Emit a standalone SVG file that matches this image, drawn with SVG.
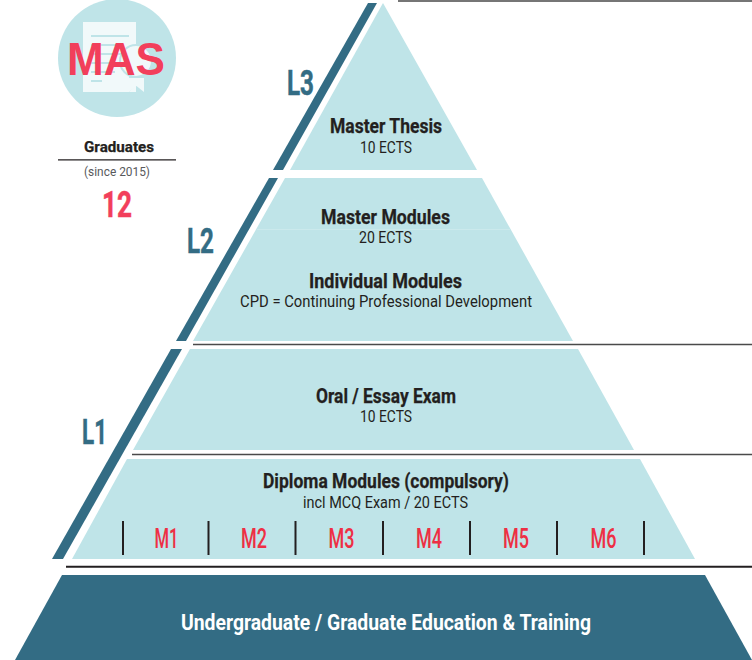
<svg xmlns="http://www.w3.org/2000/svg" width="752" height="660" viewBox="0 0 752 660">
<style>
text{font-family:"Roboto","Liberation Sans",sans-serif;text-anchor:middle}
.l{fill:#bfe4e8}.d{fill:#336c84}
.t{font-size:20px;font-weight:700;fill:#231f20;stroke:#231f20;stroke-width:.25}
.s{font-size:16.500px;fill:#231f20}
.m{font-size:27.500px;font-weight:500;fill:#ee2f44}
.lv{font-size:35px;font-weight:700;fill:#336c84;stroke:#336c84;stroke-width:.5}
.r{stroke:#4a4a4a;stroke-width:1.600}
.sep{stroke:#231f20;stroke-width:2}
</style>
<rect width="752" height="660" fill="#fff"/>
<g id="badge">
<circle cx="117" cy="58" r="59" class="l"/>
<path d="M83 22H136V92H83Z" fill="#f1f9fa"/>
<path d="M91 36H129M91 45H122M91 54H122M91 63H122M91 72H115M91 81H102" stroke="#bfe4e8" stroke-width="2" fill="none"/>
<circle cx="136" cy="61" r="16" fill="#f1f9fa" stroke="#bfe4e8" stroke-width="2"/>
<path d="M127 76H145V92L136.500 85 129 92V76Z" fill="#bfe4e8"/>
<path d="M129 78H144V92L136.500 86 129 92Z" fill="#f1f9fa"/>
<text x="116" y="75" font-size="47" font-weight="700" fill="#f23f5b" style="font-family:'Liberation Sans',sans-serif" textLength="98" lengthAdjust="spacingAndGlyphs">MAS</text>
</g>
<g id="graduates">
<text x="119" y="152" class="t" style="font-size:15.500px" textLength="70" lengthAdjust="spacingAndGlyphs">Graduates</text>
<path d="M58 159.800H176" stroke="#231f20" stroke-width="1.300"/>
<text x="117" y="176" font-size="12" fill="#58595b" textLength="66" lengthAdjust="spacingAndGlyphs">(since 2015)</text>
<text x="117" y="217" font-size="36" font-weight="700" fill="#f23f5b" stroke="#f23f5b" stroke-width=".5" textLength="30" lengthAdjust="spacingAndGlyphs">12</text>
</g>
<g id="connectors">
<path d="M398 1H752M193 344.500H752M132 454.500H752" class="r" fill="none"/>
<path d="M66 566.700H752" stroke="#231f20" stroke-width="2"/>
</g>
<g id="level3">
<path d="M368 3H377L283 170H273Z" class="d"/>
<path d="M383 3L477 170H290Z" class="l"/>
<text x="300.500" y="95" class="lv" textLength="27" lengthAdjust="spacingAndGlyphs">L3</text>
<text x="386" y="133" class="t" textLength="112" lengthAdjust="spacingAndGlyphs">Master Thesis</text>
<text x="386" y="153" class="s" textLength="52" lengthAdjust="spacingAndGlyphs">10 ECTS</text>
</g>
<g id="level2">
<path d="M269 178H278L186 341H176Z" class="d"/>
<path d="M285 178H482L573 341H193Z" class="l"/>
<path d="M257 229.500H511" stroke="#cbe9ec" stroke-width="1"/>
<text x="200.500" y="253" class="lv" textLength="27" lengthAdjust="spacingAndGlyphs">L2</text>
<text x="385.500" y="224" class="t" textLength="129" lengthAdjust="spacingAndGlyphs">Master Modules</text>
<text x="385.500" y="243" class="s" textLength="53" lengthAdjust="spacingAndGlyphs">20 ECTS</text>
<text x="385.500" y="288" class="t" textLength="153" lengthAdjust="spacingAndGlyphs">Individual Modules</text>
<text x="386" y="307" class="s" textLength="292" lengthAdjust="spacingAndGlyphs">CPD = Continuing Professional Development</text>
</g>
<g id="level1">
<path d="M171 349H182L63 559H52Z" class="d"/>
<path d="M190 349H578L634 450H133Z" class="l"/>
<path d="M127 459H640L695 559H72Z" class="l"/>
<text x="94.500" y="444" class="lv" textLength="25" lengthAdjust="spacingAndGlyphs">L1</text>
<text x="386" y="403" class="t" textLength="140" lengthAdjust="spacingAndGlyphs">Oral / Essay Exam</text>
<text x="386" y="422" class="s" textLength="52" lengthAdjust="spacingAndGlyphs">10 ECTS</text>
<text x="386" y="488" class="t" textLength="246" lengthAdjust="spacingAndGlyphs">Diploma Modules (compulsory)</text>
<text x="385.500" y="508" class="s" textLength="165" lengthAdjust="spacingAndGlyphs">incl MCQ Exam / 20 ECTS</text>
<path d="M123 521V555M208.500 521V555M295.500 521V555M383 521V555M470 521V555M557 521V555M644 521V555" class="sep" fill="none"/>
<text x="166.500" y="548" class="m" textLength="24" lengthAdjust="spacingAndGlyphs">M1</text>
<text x="254" y="548" class="m" textLength="26" lengthAdjust="spacingAndGlyphs">M2</text>
<text x="341.500" y="548" class="m" textLength="26" lengthAdjust="spacingAndGlyphs">M3</text>
<text x="429" y="548" class="m" textLength="26" lengthAdjust="spacingAndGlyphs">M4</text>
<text x="516" y="548" class="m" textLength="26" lengthAdjust="spacingAndGlyphs">M5</text>
<text x="603.500" y="548" class="m" textLength="26" lengthAdjust="spacingAndGlyphs">M6</text>
</g>
<g id="base">
<path d="M62 575H705L752 660H15Z" class="d"/>
<text x="386" y="630" font-size="22.500" font-weight="700" fill="#fff" textLength="410" lengthAdjust="spacingAndGlyphs">Undergraduate / Graduate Education &amp; Training</text>
</g>
</svg>
